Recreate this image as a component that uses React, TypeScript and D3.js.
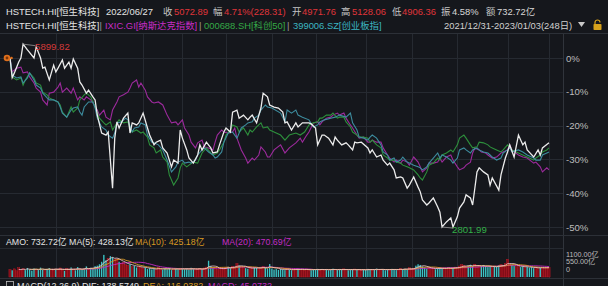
import React from 'react';
import * as d3 from 'd3';

const W = 608;
const H = 286;

// [trading day index, % change since 2021/12/31]
const hstech: [number, number][] = [
  [0,0],[1,-5.8],[2,-4.4],[4,-1.2],[5,0],[6,4.1],[8,2.4],[11,0],[12,3.3],[14,0],[15,-3.0],[16,-2.7],[18,-6.5],[20,-2.1],[21,-4.1],[22,-3.0],[24,-0.6],[25,-3.0],[27,-1.2],[28,-3.0],[29,-0.3],[31,-3.0],[32,-7.1],[33,-8.0],[35,-10.4],[36,-9.5],[38,-11.5],[39,-12.4],[40,-16.9],[42,-22.2],[44,-22.8],[45,-21.9],[47,-38.5],[48,-23.7],[49,-18.9],[50,-20.7],[52,-17.8],[54,-16.3],[55,-22.2],[56,-19.2],[58,-19.8],[59,-19.2],[61,-16.3],[63,-20.7],[64,-22.8],[66,-25.7],[67,-24.9],[69,-24.3],[70,-26.6],[72,-28.1],[74,-32.2],[75,-30.2],[77,-31.1],[78,-21.3],[79,-23.7],[81,-27.2],[82,-29.6],[84,-31.1],[86,-28.7],[87,-25.7],[88,-27.2],[90,-24.9],[92,-26.6],[93,-28.1],[95,-27.8],[96,-25.7],[98,-21.9],[99,-20.7],[101,-21.9],[102,-16.0],[104,-15.4],[105,-17.8],[107,-16.9],[109,-18.3],[110,-17.5],[111,-16.9],[113,-19.2],[115,-14.8],[116,-10.4],[118,-11.5],[119,-13.9],[121,-14.5],[123,-14.8],[125,-16.0],[126,-19.2],[127,-18.9],[129,-21.3],[131,-19.2],[132,-20.4],[134,-19.2],[137,-19.2],[138,-19.5],[140,-20.7],[141,-25.7],[143,-22.8],[144,-22.8],[146,-23.7],[148,-25.7],[149,-23.4],[150,-24.3],[152,-25.7],[154,-25.1],[155,-25.7],[157,-27.2],[158,-24.9],[159,-25.1],[161,-24.9],[164,-26.6],[165,-28.1],[166,-27.2],[168,-29.3],[170,-28.7],[171,-30.2],[173,-31.7],[174,-31.1],[176,-33.1],[177,-35.5],[179,-35.2],[180,-35.5],[182,-38.5],[183,-37.6],[185,-35.2],[187,-38.2],[188,-39.6],[189,-42.0],[191,-43.5],[192,-42.9],[194,-41.4],[196,-44.1],[197,-45.6],[198,-50.0],[200,-48.5],[202,-47.3],[203,-50.0],[205,-47.0],[206,-44.4],[208,-42.6],[209,-40.5],[211,-41.4],[212,-43.5],[214,-33.7],[215,-32.5],[217,-33.7],[219,-34.6],[220,-37.6],[221,-35.5],[224,-39.1],[225,-34.6],[227,-29.6],[228,-27.8],[229,-25.7],[231,-29.3],[233,-22.8],[235,-25.7],[236,-24.9],[237,-27.2],[240,-29.3],[242,-27.2],[243,-28.7],[244,-26.6],[247,-25.1]
];

const ixic: [number, number][] = [
  [0,0],[1,-4.1],[3,-3.0],[5,-2.7],[6,-4.4],[8,-4.1],[9,-5.6],[11,-7.4],[12,-8.9],[14,-10.1],[15,-12.4],[17,-13.9],[18,-10.4],[20,-10.1],[22,-8.6],[23,-7.4],[24,-10.1],[26,-8.9],[28,-10.4],[29,-8.9],[31,-12.4],[32,-11.5],[34,-12.4],[35,-11.5],[37,-12.4],[38,-13.3],[40,-15.4],[41,-16.9],[43,-15.4],[44,-17.5],[46,-18.3],[47,-15.4],[49,-13.0],[50,-11.5],[52,-10.9],[54,-10.1],[55,-8.9],[56,-7.4],[58,-6.5],[59,-8.6],[60,-7.4],[62,-9.5],[63,-11.5],[65,-13.0],[66,-13.3],[68,-13.0],[70,-13.9],[71,-15.4],[72,-16.9],[74,-19.2],[76,-18.9],[77,-19.8],[79,-18.3],[80,-20.7],[82,-22.8],[83,-24.9],[85,-26.6],[86,-25.1],[88,-24.3],[89,-26.3],[91,-26.6],[93,-27.2],[94,-24.9],[95,-22.8],[97,-21.3],[98,-21.9],[100,-22.2],[102,-21.9],[103,-20.7],[104,-23.7],[106,-27.2],[108,-29.6],[109,-31.1],[111,-29.6],[112,-30.2],[114,-28.7],[115,-26.3],[117,-27.8],[118,-29.3],[119,-29.3],[121,-27.2],[124,-25.7],[126,-28.1],[128,-26.6],[131,-25.1],[133,-23.7],[134,-24.9],[136,-22.8],[137,-21.9],[139,-19.2],[141,-18.9],[142,-19.8],[143,-18.9],[145,-17.8],[147,-17.5],[148,-16.9],[150,-16.3],[151,-16.9],[153,-16.3],[154,-17.8],[156,-19.8],[157,-20.7],[159,-22.8],[160,-23.7],[162,-23.4],[164,-24.9],[165,-24.9],[166,-24.3],[168,-24.9],[170,-24.9],[171,-26.6],[173,-28.7],[174,-29.6],[176,-30.8],[177,-30.2],[179,-31.1],[180,-30.2],[182,-30.8],[183,-31.7],[185,-29.3],[187,-30.8],[188,-32.2],[189,-33.7],[191,-32.5],[192,-31.1],[194,-31.1],[196,-30.8],[197,-29.6],[198,-30.8],[200,-29.3],[202,-28.7],[203,-30.2],[205,-32.2],[206,-33.1],[208,-32.5],[209,-31.7],[211,-30.8],[212,-28.1],[213,-26.6],[215,-27.2],[216,-27.8],[218,-28.1],[219,-28.7],[221,-29.6],[223,-29.3],[225,-28.1],[228,-27.2],[229,-25.7],[230,-27.2],[233,-28.7],[235,-29.3],[237,-29.6],[240,-31.1],[241,-30.8],[243,-32.2],[244,-33.7],[246,-32.5],[247,-33.1]
];

const star50: [number, number][] = [
  [0,0],[1,-5.6],[3,-6.5],[5,-5.9],[6,-8.0],[7,-6.5],[9,-4.4],[11,-5.9],[12,-7.4],[14,-8.0],[15,-10.1],[17,-10.9],[18,-11.8],[20,-12.4],[22,-13.0],[23,-13.9],[24,-16.0],[26,-17.5],[28,-14.5],[29,-16.0],[31,-14.8],[32,-12.4],[34,-10.9],[35,-10.4],[37,-11.5],[38,-13.0],[40,-16.0],[41,-17.8],[43,-19.2],[44,-19.8],[46,-18.9],[47,-21.3],[49,-19.2],[50,-18.3],[52,-19.2],[54,-18.9],[55,-20.7],[56,-21.9],[58,-21.3],[60,-22.2],[61,-21.9],[63,-23.4],[64,-25.7],[66,-26.6],[67,-28.1],[69,-27.2],[70,-29.3],[72,-30.8],[73,-34.6],[75,-37.6],[77,-35.5],[78,-32.5],[79,-31.1],[81,-32.2],[82,-31.7],[84,-30.8],[86,-31.1],[87,-29.6],[88,-28.1],[90,-26.6],[92,-28.1],[93,-28.7],[95,-28.1],[96,-27.2],[98,-24.9],[99,-22.8],[101,-21.3],[102,-19.8],[104,-20.4],[105,-21.9],[107,-20.7],[109,-22.8],[110,-21.3],[111,-21.9],[113,-20.4],[115,-19.2],[116,-20.7],[118,-20.4],[119,-21.3],[121,-21.9],[124,-22.8],[126,-24.3],[128,-22.8],[131,-22.2],[133,-22.8],[135,-21.9],[137,-19.8],[139,-19.2],[141,-18.9],[142,-17.8],[143,-17.8],[145,-16.9],[147,-16.9],[148,-16.3],[150,-17.8],[151,-17.5],[153,-17.5],[154,-18.9],[156,-20.4],[157,-21.9],[159,-22.8],[160,-23.4],[162,-23.4],[164,-23.7],[165,-24.9],[166,-24.3],[168,-25.7],[170,-26.6],[171,-28.7],[173,-29.6],[174,-30.2],[176,-30.2],[177,-30.8],[179,-31.1],[180,-31.7],[182,-32.2],[183,-32.5],[185,-33.1],[187,-34.6],[188,-35.5],[189,-36.1],[191,-33.7],[192,-31.7],[194,-31.1],[196,-29.6],[197,-30.2],[198,-28.7],[200,-28.1],[202,-27.2],[203,-27.8],[205,-25.7],[206,-23.7],[208,-22.8],[209,-23.7],[211,-25.7],[212,-26.6],[214,-26.3],[215,-24.9],[217,-25.1],[219,-25.7],[220,-26.3],[221,-26.6],[223,-27.2],[225,-27.8],[226,-27.2],[228,-25.7],[229,-26.3],[230,-27.2],[233,-28.1],[235,-28.7],[237,-29.3],[240,-30.2],[241,-29.6],[243,-28.7],[244,-27.8],[246,-27.2],[247,-26.6]
];

const chinext: [number, number][] = [
  [0,0],[1,-5.0],[3,-5.9],[5,-5.6],[6,-7.4],[8,-5.9],[9,-4.4],[11,-6.5],[12,-8.0],[14,-8.9],[15,-10.4],[17,-11.8],[18,-12.4],[20,-12.4],[22,-13.0],[23,-14.5],[24,-16.3],[26,-17.5],[28,-15.4],[29,-14.8],[31,-14.5],[32,-16.0],[33,-16.9],[34,-14.5],[36,-13.0],[38,-13.0],[39,-14.8],[40,-17.8],[42,-20.4],[44,-21.3],[45,-22.8],[47,-23.7],[48,-22.2],[49,-19.2],[51,-18.9],[53,-17.8],[54,-18.3],[56,-21.9],[57,-20.7],[59,-20.4],[60,-19.2],[62,-19.8],[63,-22.8],[65,-24.9],[66,-25.1],[68,-25.7],[70,-27.2],[71,-28.7],[72,-30.2],[74,-33.7],[76,-32.2],[77,-30.8],[79,-30.2],[80,-31.1],[82,-30.8],[83,-31.1],[85,-30.2],[86,-28.7],[88,-27.2],[89,-26.6],[91,-27.8],[93,-28.7],[94,-29.6],[95,-29.3],[97,-27.8],[98,-24.9],[100,-22.2],[102,-21.9],[103,-22.8],[104,-23.7],[106,-20.7],[108,-19.8],[109,-19.2],[111,-18.9],[112,-17.8],[114,-16.9],[115,-15.4],[117,-13.9],[118,-14.5],[120,-14.8],[124,-16.3],[126,-18.9],[127,-15.4],[129,-16.3],[131,-15.4],[132,-16.9],[134,-17.5],[137,-18.3],[139,-20.4],[141,-19.8],[142,-18.9],[144,-18.3],[147,-17.8],[149,-17.5],[151,-16.9],[154,-17.5],[156,-16.3],[157,-19.2],[159,-21.3],[160,-23.4],[162,-23.7],[164,-24.3],[165,-23.4],[166,-22.8],[168,-23.7],[170,-25.7],[171,-27.8],[173,-28.7],[174,-30.2],[176,-29.6],[177,-30.8],[179,-30.2],[180,-29.3],[182,-30.8],[183,-31.1],[185,-31.7],[187,-32.2],[188,-32.5],[189,-33.1],[191,-32.2],[192,-31.1],[194,-29.6],[196,-28.1],[197,-29.6],[198,-28.7],[200,-29.3],[202,-30.2],[203,-31.1],[205,-29.6],[206,-27.2],[208,-26.6],[209,-27.2],[211,-28.1],[212,-27.2],[214,-26.6],[215,-27.2],[217,-27.8],[219,-28.1],[220,-28.7],[221,-29.3],[223,-30.2],[225,-29.6],[226,-28.1],[228,-27.2],[229,-26.6],[230,-27.8],[233,-27.2],[235,-27.8],[237,-28.7],[240,-29.6],[241,-30.2],[243,-30.2],[244,-28.7],[246,-28.1],[247,-27.8]
];

// daily turnover of HSTECH, 亿
const volume: number[] = [
  420,380,460,350,520,400,470,390,510,430,360,480,440,390,530,410,370,450,500,420,
  380,460,430,510,390,350,470,420,540,400,380,560,450,410,480,600,430,520,470,610,
  640,720,860,1250,950,1050,1180,1120,980,1020,860,780,820,700,650,720,580,620,540,600,
  560,480,520,450,500,430,470,410,530,460,420,480,440,510,390,450,470,430,500,460,
  440,480,420,520,460,400,450,490,430,510,560,920,620,500,470,430,480,520,460,540,
  580,520,610,560,760,650,590,540,500,470,520,480,560,510,460,540,600,520,480,733,
  480,420,450,400,470,430,390,460,410,380,440,420,470,400,430,390,450,410,380,440,
  420,460,390,430,400,450,380,420,470,410,390,440,400,460,420,380,430,410,450,390,
  420,380,440,400,460,420,390,430,470,410,440,400,380,450,420,460,410,390,440,480,
  430,470,410,520,460,500,640,720,680,600,540,480,520,460,500,440,480,530,470,510,
  460,540,500,480,560,520,620,700,660,580,640,690,610,720,560,640,600,680,620,560,
  600,540,620,580,660,700,640,760,1000,720,680,620,580,640,560,600,540,580,520,560,
  500,540,480,520,560,500,540,520
];

const monthStartDays = [21, 38, 61, 79, 99, 120, 140, 163, 184, 205, 228, 247];
const pctTicks = [0, -10, -20, -30, -40, -50];
const volTickLabels = ['1100.00亿', '550.00亿', '0'];

const FONT = "'Liberation Sans', 'Noto Sans CJK SC', sans-serif";
const BG = '#15171c';
const GRID = '#262a31';
const RED = '#e0353a';
const LABEL = '#c4c4c4';

const x = d3.scaleLinear().domain([0, 247]).range([10, 549]);
const y = d3.scaleLinear().domain([0, -50]).range([58, 227]);
const yv = d3.scaleLinear().domain([0, 1300]).range([277, 254]);

const line = d3.line<[number, number]>().x(d => x(d[0])).y(d => y(d[1])).curve(d3.curveLinear);

function movingAvg(n: number): (number | null)[] {
  return volume.map((_, i) => (i < n - 1 ? null : (d3.mean(volume.slice(i - n + 1, i + 1)) as number)));
}

function interp(series: [number, number][], d: number): number {
  const days = series.map(p => p[0]);
  const i = d3.bisectLeft(days, d);
  if (i <= 0) return series[0][1];
  if (i >= series.length) return series[series.length - 1][1];
  const [d0, v0] = series[i - 1];
  const [d1, v1] = series[i];
  return v0 + ((v1 - v0) * (d - d0)) / (d1 - d0 || 1);
}

export default function App() {
  const maLine = d3
    .line<number | null>()
    .defined(v => v != null)
    .x((_, i) => x(i))
    .y(v => yv(v as number));

  const maxPt = hstech.reduce((a, b) => (b[1] > a[1] ? b : a));
  const minPt = hstech.reduce((a, b) => (b[1] < a[1] ? b : a));
  const step = x(1) - x(0);

  const header1: { t: string; x: number; c: string }[] = [
    { t: 'HSTECH.HI[恒生科技]', x: 6, c: '#e4e4e4' },
    { t: '2022/06/27', x: 106, c: '#e4e4e4' },
    { t: '收', x: 163, c: LABEL },
    { t: '5072.89', x: 174, c: RED },
    { t: '幅', x: 213, c: LABEL },
    { t: '4.71%(228.31)', x: 224, c: RED },
    { t: '开', x: 292, c: LABEL },
    { t: '4971.76', x: 302, c: RED },
    { t: '高', x: 341, c: LABEL },
    { t: '5128.06', x: 352, c: RED },
    { t: '低', x: 392, c: LABEL },
    { t: '4906.36', x: 402, c: RED },
    { t: '振', x: 441, c: LABEL },
    { t: '4.58%', x: 452, c: '#d8d8d8' },
    { t: '额', x: 486, c: LABEL },
    { t: '732.72亿', x: 497, c: '#d8d8d8' },
  ];
  const header2: { t: string; x: number; c: string }[] = [
    { t: 'HSTECH.HI[恒生科技]', x: 6, c: '#e4e4e4' },
    { t: '|', x: 99.5, c: '#a0a0a0' },
    { t: 'IXIC.GI[纳斯达克指数]', x: 105, c: '#c62cc6' },
    { t: '|', x: 199, c: '#a0a0a0' },
    { t: '000688.SH[科创50]', x: 204, c: '#34a846' },
    { t: '|', x: 287, c: '#a0a0a0' },
    { t: '399006.SZ[创业板指]', x: 293, c: '#3cb6c2' },
    { t: '2021/12/31-2023/01/03(248日)', x: 444, c: '#d0d0d0' },
  ];
  const amo: { t: string; x: number; c: string }[] = [
    { t: 'AMO: 732.72亿 MA(5): 428.13亿', x: 6, c: '#e4e4e4' },
    { t: 'MA(10): 425.18亿', x: 135, c: '#d99a22' },
    { t: 'MA(20): 470.69亿', x: 222, c: '#c42cc4' },
  ];
  const macd: { t: string; x: number; c: string }[] = [
    { t: 'MACD(12,26,9) DIF: 138.5749', x: 17, c: '#e4e4e4' },
    { t: 'DEA: 116.0382', x: 143, c: '#d99a22' },
    { t: 'MACD: 45.0732', x: 208, c: '#c42cc4' },
  ];

  return (
    <div style={{ position: 'fixed', left: 0, top: 0, width: W, height: H, background: BG }}>
      <svg width={W} height={H} style={{ display: 'block', fontFamily: FONT }}>
        <rect width={W} height={H} fill={BG} />

        {/* header */}
        {header1.map((h, i) => (
          <text key={'h1' + i} x={h.x} y={15} fontSize={9.4} fill={h.c}>{h.t}</text>
        ))}
        {header2.map((h, i) => (
          <text key={'h2' + i} x={h.x} y={28.5} fontSize={9.4} fill={h.c}>{h.t}</text>
        ))}
        <path d="M578,22 L585,22 L581.5,27 Z" fill="#c8c8c8" />
        <g transform="translate(593,20)">
          <path d="M2,4 V2.5 a2.5,2.5 0 0 1 5,0" fill="none" stroke="#d7a21c" strokeWidth={1.2} />
          <rect x={0.5} y={4} width={8} height={6} fill="#d7a21c" rx={0.8} />
        </g>
        <line x1={0} x2={W} y1={33.5} y2={33.5} stroke="#2c3037" />

        {/* grid */}
        {pctTicks.map(t => (
          <line key={'g' + t} x1={0} x2={563} y1={Math.round(y(t)) + 0.5} y2={Math.round(y(t)) + 0.5} stroke={GRID} />
        ))}
        {monthStartDays.map(d => (
          <line key={'v' + d} x1={Math.round(x(d)) + 0.5} x2={Math.round(x(d)) + 0.5} y1={34} y2={278} stroke={GRID} />
        ))}
        <line x1={563.5} x2={563.5} y1={34} y2={H} stroke="#30343b" />
        <line x1={0} x2={W} y1={235.5} y2={235.5} stroke="#2c3037" />
        <line x1={0} x2={563} y1={248.5} y2={248.5} stroke={GRID} />
        <line x1={0} x2={W} y1={278.5} y2={278.5} stroke="#2c3037" />

        {pctTicks.map(t => (
          <text key={'t' + t} x={566} y={y(t) + 3.5} fontSize={9.6} fill="#bdbdbd">{t + '%'}</text>
        ))}

        {/* lines */}
        <path d={line(ixic) || ''} fill="none" stroke="#9c2a9c" strokeWidth={1.1} />
        <path d={line(star50) || ''} fill="none" stroke="#2d8f3c" strokeWidth={1.1} />
        <path d={line(chinext) || ''} fill="none" stroke="#3d8c9e" strokeWidth={1.1} />
        <path d={line(hstech) || ''} fill="none" stroke="#ececec" strokeWidth={1.3} />

        {/* start marker */}
        <circle cx={7} cy={y(0)} r={3.3} fill="#e0701c" />
        <circle cx={7} cy={y(0)} r={1.4} fill="#7a3408" />
        <circle cx={11.5} cy={y(0)} r={1.3} fill="#e0701c" />

        {/* max / min labels */}
        <line x1={x(maxPt[0])} y1={y(maxPt[1])} x2={x(maxPt[0]) + 12} y2={y(maxPt[1]) + 1.5} stroke="#9a9a9a" strokeWidth={0.8} />
        <text x={x(maxPt[0]) + 12} y={y(maxPt[1]) + 6} fontSize={9.6} fill="#d43a3a">5899.82</text>
        <line x1={x(minPt[0])} y1={y(minPt[1])} x2={x(minPt[0]) + 10} y2={y(minPt[1]) + 1} stroke="#9a9a9a" strokeWidth={0.8} />
        <text x={x(minPt[0]) + 10} y={y(minPt[1]) + 6} fontSize={9.6} fill="#33b048">2801.99</text>

        {/* volume panel */}
        {amo.map((h, i) => (
          <text key={'a' + i} x={h.x} y={245} fontSize={8.8} fill={h.c}>{h.t}</text>
        ))}
        {volume.map((v, i) => {
          const up = i === 0 ? true : interp(hstech, i) >= interp(hstech, i - 1);
          const w = up ? step : step * 0.62;
          return (
            <rect
              key={'b' + i}
              x={x(i) - w / 2}
              y={yv(v)}
              width={w}
              height={yv(0) - yv(v)}
              fill={up ? '#820d17' : '#3cc4c6'}
              stroke={up ? '#c81e2a' : 'none'}
              strokeWidth={up ? 0.4 : 0}
            />
          );
        })}
        <path d={maLine(movingAvg(20)) || ''} fill="none" stroke="#c42cc4" strokeWidth={0.9} />
        <path d={maLine(movingAvg(10)) || ''} fill="none" stroke="#d99a22" strokeWidth={0.9} />
        <path d={maLine(movingAvg(5)) || ''} fill="none" stroke="#f0c8cc" strokeWidth={0.8} />
        {volTickLabels.map((t, i) => (
          <text key={'vl' + i} x={566} y={256.5 + i * 7.6} fontSize={7.2} fill="#bdbdbd">{t}</text>
        ))}

        {/* MACD header (cut off at bottom, as in the source) */}
        <rect x={6.5} y={281.5} width={7} height={7} fill="none" stroke="#bdbdbd" strokeWidth={0.8} />
        {macd.map((h, i) => (
          <text key={'m' + i} x={h.x} y={288.5} fontSize={9} fill={h.c}>{h.t}</text>
        ))}
      </svg>
    </div>
  );
}
